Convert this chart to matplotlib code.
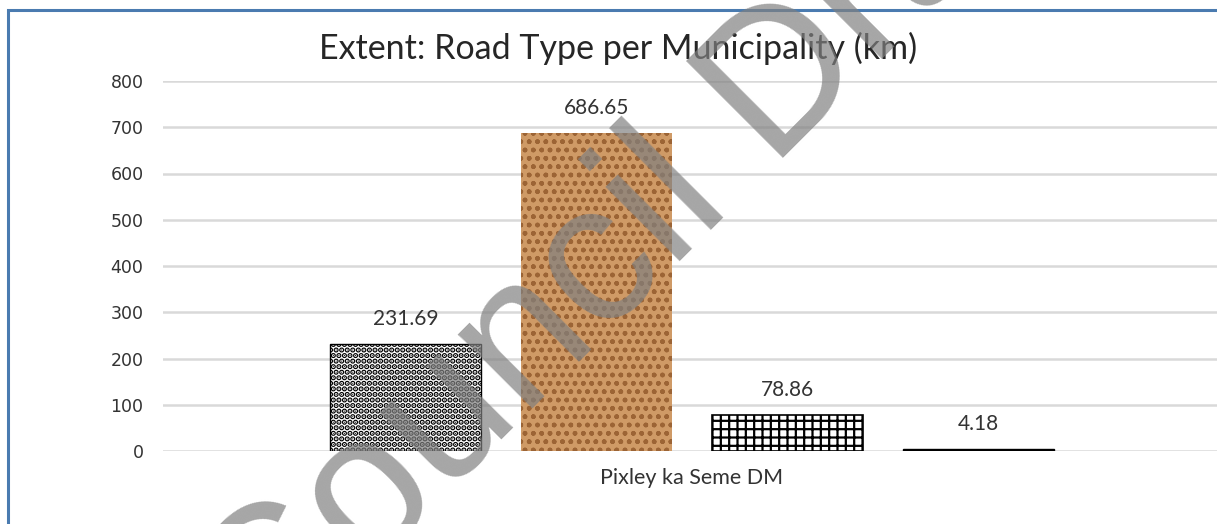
import matplotlib
matplotlib.use("Agg")
import matplotlib.pyplot as plt
from matplotlib.patches import Rectangle

# ---- data ----
category = "Pixley ka Seme DM"
values = [231.69, 686.65, 78.86, 4.18]
value_labels = ["231.69", "686.65", "78.86", "4.18"]
yticks = [0, 100, 200, 300, 400, 500, 600, 700, 800]
title = "Extent: Road Type per Municipality (km)"
watermark = "Council Draft"

W, H = 1217, 524
fig = plt.figure(figsize=(W / 100, H / 100), dpi=100)
fig.patch.set_facecolor("white")

# chart-area border
fig.patches.append(Rectangle((8 / W, -0.2), 1.2, 1.2 - 10 / H, transform=fig.transFigure,
                             fill=False, edgecolor="#4a7bb0", linewidth=2.2, zorder=0))

ax = fig.add_axes([163 / W, 1 - 451 / H, (1221 - 163) / W, (451 - 81) / H])
ax.set_xlim(0, 1)
ax.set_ylim(0, 800)
for s in ax.spines.values():
    s.set_visible(False)
ax.set_yticks(yticks)
ax.set_yticklabels([str(t) for t in yticks], fontfamily="DejaVu Sans", fontsize=12.5, color="#333333")
ax.tick_params(axis="y", length=0, pad=14)
ax.yaxis.grid(True, color="#d9d9d9", linewidth=1.8)
ax.set_axisbelow(True)
ax.set_xticks([0.5])
ax.set_xticklabels([category], fontfamily="Lato", fontsize=15.5, color="#333333")
ax.tick_params(axis="x", length=0, pad=12)

spacing = 0.1805
width = 0.1427
styles = [
    dict(facecolor="white", edgecolor="black", hatch="...", hlw=2.8, lw=1.0),
    dict(facecolor="#cf9a66", edgecolor="#9c6435", hatch="..oo", hlw=1.0, lw=0),
    dict(facecolor="white", edgecolor="black", hatch="++", hlw=1.6, lw=1.2),
    dict(facecolor="black", edgecolor="black", hatch=None, hlw=1.0, lw=1.0),
]
for i, (v, lab, st) in enumerate(zip(values, value_labels, styles)):
    x = 0.5 + (i - 1.5) * spacing
    plt.rcParams["hatch.linewidth"] = st["hlw"]
    ax.bar(x, v, width=width, linewidth=st["lw"], facecolor=st["facecolor"],
           edgecolor=st["edgecolor"], hatch=st["hatch"])
    ax.annotate(lab, (x, v), xytext=(0, 18), textcoords="offset points",
                ha="center", va="center", fontfamily="Lato", fontsize=15, color="#333333")

fig.text(618 / W, 1 - 48 / H, title, ha="center", va="center",
         fontfamily="Lato", fontsize=24.5, color="#262626")

# watermark
fig.text(267 / W, 1 - 675 / H, watermark, rotation=45, rotation_mode="anchor",
         ha="left", va="baseline", fontfamily="Liberation Sans", fontsize=142.5,
         color="#808080", alpha=0.7, zorder=10)

fig.savefig("out.png", dpi=100)
